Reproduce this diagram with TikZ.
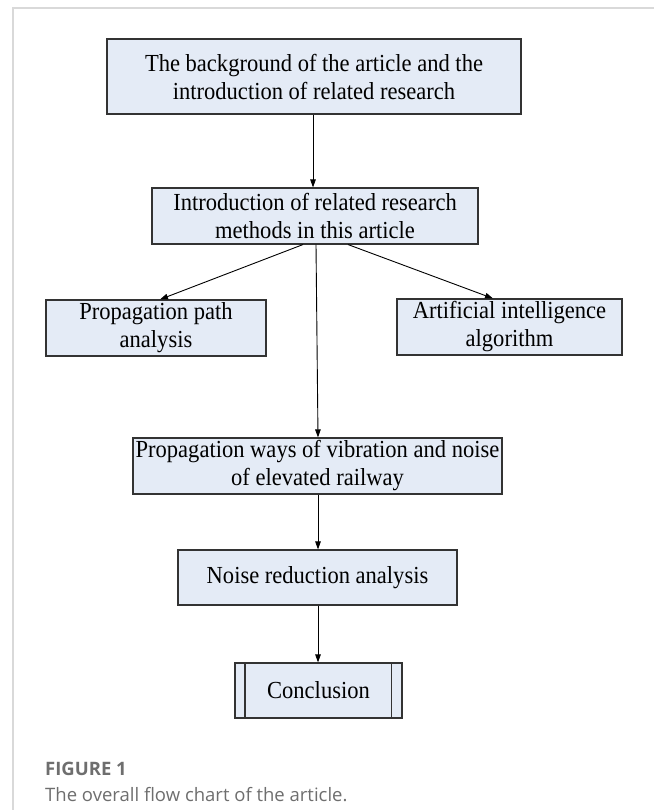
\documentclass[tikz,border=0pt]{standalone}
\usepackage{fontspec}
\setmainfont[FakeStretch=0.92]{Liberation Serif}
\newfontfamily\capfont{Open Sans}
\usetikzlibrary{arrows.meta,calc}
\definecolor{boxfill}{HTML}{E4EBF6}
\definecolor{boxline}{HTML}{333333}
\definecolor{framegray}{HTML}{D9D9D9}
\definecolor{capgray}{HTML}{6E6E6E}
\tikzset{
  flowbox/.style={draw=boxline, fill=boxfill, line width=1.1pt, inner sep=0pt, align=center,
    font=\fontsize{24.5}{28}\selectfont},
  flowarrow/.style={draw=black, line width=0.9pt, -{Triangle[length=8pt,width=5.5pt]}},
  framestyle/.style={draw=framegray, line width=2pt}
}
\begin{document}
\begin{tikzpicture}[x=1pt,y=-1pt]
\useasboundingbox (0,0) rectangle (654,810);
% frame
\coordinate (fl) at (13,810);
\coordinate (ftl) at (13,8);
\coordinate (fr) at (654,8);
\draw[framestyle] (fl) -- (ftl) -- (fr);
% boxes
\node[flowbox, minimum width=414pt, minimum height=75pt] (b1) at (314,76.5)
  {The background of the article and the\\introduction of related research};
\node[flowbox, minimum width=326pt, minimum height=56pt] (b2) at (315,216)
  {Introduction of related research\\methods in this article};
\node[flowbox, minimum width=220pt, minimum height=56pt] (b3) at (156,328)
  {Propagation path\\analysis};
\node[flowbox, minimum width=225pt, minimum height=56pt] (b4) at (509.5,327)
  {Artificial intelligence\\algorithm};
\node[flowbox, minimum width=369pt, minimum height=56pt] (b5) at (317.5,466)
  {Propagation ways of vibration and noise\\of elevated railway};
\node[flowbox, minimum width=279pt, minimum height=55pt] (b6) at (317.5,577.5)
  {Noise reduction analysis};
\node[flowbox, minimum width=167pt, minimum height=55pt] (b7) at (318.5,690.5)
  {Conclusion};
\draw[draw=boxline, line width=1.1pt] ($(b7.north west)+(10.5,0)$) -- ($(b7.south west)+(10.5,0)$);
\draw[draw=boxline, line width=1.1pt] ($(b7.north east)+(-11,0)$) -- ($(b7.south east)+(-11,0)$);
% connectors
\draw[flowarrow] ($(b1.south)+(-1,0)$) -- ($(b2.north)+(-2,0)$);
\draw[flowarrow] ($(b2.south)+(-12,0)$) -- ($(b3.north)+(4,0)$);
\draw[flowarrow] ($(b2.south)+(33,0)$) -- ($(b4.north)+(-16.5,0)$);
\draw[flowarrow] ($(b2.south)+(1,0)$) -- ($(b5.north)+(0.5,0)$);
\draw[flowarrow] ($(b5.south)+(0.5,0)$) -- ($(b6.north)+(0.5,0)$);
\draw[flowarrow] ($(b6.south)+(0.5,0)$) -- ($(b7.north)+(-0.5,0)$);
% caption
\node[anchor=base west, inner sep=0pt, text=capgray, font=\capfont\bfseries\fontsize{18.5}{22}\selectfont] (cap1) at (45,775) {FIGURE 1};
\node[anchor=base west, inner sep=0pt, text=capgray, font=\capfont\fontsize{18.5}{22}\selectfont] (cap2) at (45,801) {The overall flow chart of the article.};
\end{tikzpicture}
\end{document}
